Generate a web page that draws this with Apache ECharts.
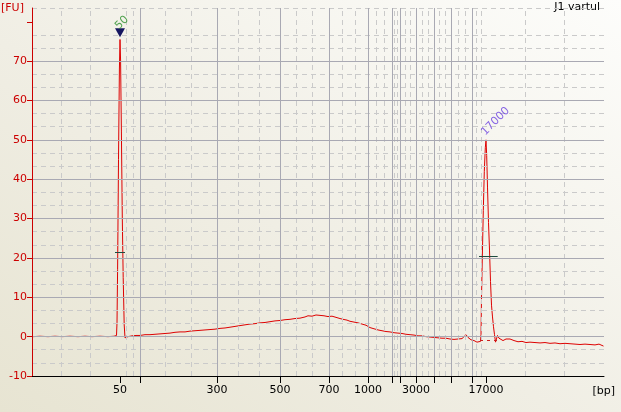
<!DOCTYPE html>
<html><head><meta charset="utf-8">
<script src="https://cdn.jsdelivr.net/npm/echarts@6/dist/echarts.min.js"></script>
<style>
html,body{margin:0;padding:0;}
#c{width:621px;height:412px;background:linear-gradient(to top right,#e7e4d2 0%,#f0eee4 45%,#fdfdfb 100%);}
</style>
</head><body><div id="c"></div>
<script>
// migration time (arbitrary units) and fluorescence
const traceTime = [33,40,48,55,62,70,78,85,92,100,108,114,116.5,117,117.6,118.5,119.4,120,120.6,121.4,122.3,123.2,124.2,125,126,128,132,136,140,145,150,155,160,165,170,175,180,185,190,195,200,205,210,215,220,225,230,235,240,245,250,255,260,265,270,275,280,285,290,295,300,305,308,312,316,320,324,328,332,336,340,343,347,350,354,358,362,366,370,374,378,382,386,390,394,398,402,406,410,414,418,422,426,430,434,438,442,446,450,454,458,462,464,466,468,471,474,477,479,480.5,481,481.5,482.3,483.3,484.3,485.3,486,486.7,487.5,488.5,489.5,490.5,491.5,492.5,493.5,494.5,495.5,496.5,497.5,499,501,503,506,510,514,518,522,526,530,535,540,545,550,555,560,565,570,575,580,585,590,595,599,601,603.5];
const traceFU = [0.0,0.1,0.0,0.1,0.0,0.1,0.0,0.1,0.0,0.1,0.0,0.1,0.3,3.5,17,45,68,75.5,70,52,30,15,3,-0.3,0.1,0.0,0.2,0.3,0.3,0.5,0.5,0.6,0.7,0.8,0.9,1.1,1.2,1.2,1.4,1.5,1.6,1.7,1.8,1.9,2.1,2.2,2.4,2.6,2.8,3.0,3.2,3.3,3.5,3.6,3.8,4.0,4.1,4.3,4.4,4.6,4.7,5.0,5.3,5.2,5.5,5.4,5.3,5.1,5.2,4.9,4.6,4.4,4.2,3.9,3.7,3.5,3.2,2.9,2.3,2.0,1.7,1.5,1.3,1.2,1.0,0.9,0.8,0.6,0.5,0.4,0.2,0.2,0.0,-0.1,-0.2,-0.3,-0.4,-0.4,-0.6,-0.7,-0.6,-0.5,-0.1,0.5,-0.2,-0.8,-1.0,-1.4,-0.9,-1.2,0.5,10,20,32,42,48,50,46,38,29,22,14,8,5,2.5,0.5,-1.4,-1.2,0.3,-0.4,-0.2,-1.0,-0.6,-0.6,-1.0,-1.3,-1.2,-1.5,-1.4,-1.5,-1.6,-1.5,-1.7,-1.6,-1.8,-1.7,-1.8,-1.9,-2.0,-1.9,-2.0,-2.1,-1.9,-2.4,-2.4];

const ladderTime = [120,140,217,280,329,368,392,400,416,434,451,472,486];
const ladderSize = ['50','100','300','500','700','1000','1500','2000','3000','4000','5000','7000','17000'];
const labelledSizes = ['50','300','500','700','1000','3000','17000'];
const timeMin = 32, timeMax = 604;

const yMin = -10, yMax = 83.5, yStep = 10;
const yTicks = [-10,0,10,20,30,40,50,60,70,80];
const yLabels = [-10,0,10,20,30,40,50,60,70];

const markerName = ['50','17000'];
const markerTime = [120,486];
const markerFU = [77.2,50];
const triangleTime = [120];
const triangleFU = [77.2];
const widthBarFU = [21.5,20.4];
const widthBarStart = [115,479];
const widthBarEnd = [125,497.7];
const baseDashTime = [[480,498]];
const baseDashFU = [-0.8];

// derived dashed grid lines at thirds between major lines
const bounds = [timeMin].concat(ladderTime, [timeMax]);
const dashedV = [];
for (let i = 0; i < bounds.length - 1; i++) {
  const a = bounds[i], b = bounds[i+1];
  dashedV.push(Math.floor(a + (b - a) / 3) + 0.5, Math.floor(a + 2 * (b - a) / 3) + 0.5);
}
const dashedH = [];
for (let v = yMin; v < yMax; v += yStep) {
  [v + yStep/3, v + 2*yStep/3].forEach(d => { if (d < yMax) dashedH.push(d); });
}

const labelTimes = ladderTime.filter((t, i) => labelledSizes.indexOf(ladderSize[i]) >= 0);
const sizeAt = t => ladderSize[ladderTime.indexOf(t)];

const FONT = 'DejaVu Sans';
const GRID_SOLID = '#a9a9b3', GRID_DASH = '#cacaca';
const chart = echarts.init(document.getElementById('c'), null, {renderer: 'canvas'});
const lineMark = (arr, axis, color, type) => arr.map(v => ({[axis]: v, lineStyle: {color: color, type: type, width: 1}}));

chart.setOption({
  backgroundColor: 'transparent',
  animation: false,
  grid: {left: 32, right: 17, top: 8, bottom: 36},
  xAxis: {
    type: 'value', min: timeMin, max: timeMax, z: 10,
    axisLine: {onZero: false, lineStyle: {color: '#000', width: 1}},
    axisTick: {show: true, customValues: ladderTime, length: 7, lineStyle: {color: '#000'}},
    axisLabel: {customValues: labelTimes, formatter: v => sizeAt(v), color: '#000', fontFamily: FONT, fontSize: 11, margin: 9},
    splitLine: {show: true, showMinLine: false, showMaxLine: false, lineStyle: {color: GRID_SOLID, width: 1}}
  },
  yAxis: {
    type: 'value', min: yMin, max: yMax, interval: yStep, z: 10,
    axisLine: {show: true, lineStyle: {color: '#cc0000', width: 1}},
    axisTick: {show: true, customValues: yTicks, length: 5, lineStyle: {color: '#cc0000'}},
    axisLabel: {customValues: yLabels, color: '#cc0000', fontFamily: FONT, fontSize: 11, margin: 5},
    splitLine: {show: true, showMinLine: false, showMaxLine: false, lineStyle: {color: GRID_SOLID, width: 1}}
  },
  graphic: [
    {type: 'text', left: 1, top: 3, style: {text: '[FU]', fill: '#cc0000', font: '11px ' + FONT}},
    {type: 'text', right: 21, top: 2, style: {text: 'J1 vartul', fill: '#000', font: '11px ' + FONT}},
    {type: 'text', right: 6, top: 386, style: {text: '[bp]', fill: '#000', font: '11px ' + FONT}}
  ],
  series: [
    {
      type: 'line', data: [], z: 0, silent: true,
      markLine: {
        silent: true, symbol: 'none', label: {show: false}, animation: false,
        emphasis: {disabled: true},
        data: [].concat(
          lineMark(dashedV, 'xAxis', GRID_DASH, [5, 4]),
          lineMark(dashedH, 'yAxis', GRID_DASH, [5, 4])
        )
      }
    },
    {
      type: 'line', z: 3, silent: true,
      data: traceTime.map((t, i) => [t, traceFU[i]]),
      showSymbol: false, symbol: 'none',
      lineStyle: {color: '#dd0000', width: 1},
      markLine: {
        silent: true, symbol: 'none', label: {show: false},
        data: widthBarFU.map((y, i) => [
          {coord: [widthBarStart[i], y], lineStyle: {color: '#1f4a3e', width: 1, type: 'solid'}},
          {coord: [widthBarEnd[i], y]}
        ]).concat(baseDashFU.map((y, i) => [
          {coord: [baseDashTime[i][0], y], lineStyle: {color: '#cc2020', width: 1, type: [3, 4]}},
          {coord: [baseDashTime[i][1], y]}
        ]))
      }
    },
    {
      type: 'scatter', z: 4, silent: true,
      data: triangleTime.map((t, i) => [t, triangleFU[i]]),
      symbol: 'triangle', symbolRotate: 180, symbolSize: [10, 9],
      itemStyle: {color: '#161660', opacity: 1}
    },
    {
      type: 'scatter', z: 5, silent: true, symbolSize: 0,
      data: markerTime.map((t, i) => ({
        value: [t, markerFU[i]],
        label: {
          show: true, formatter: markerName[i], position: 'inside', rotate: 45,
          offset: i === 0 ? [8.5, -5.7] : [19.8, -6.4],
          color: i === 0 ? '#2a8f2a' : '#6a40e0',
          fontFamily: FONT, fontSize: 11
        }
      }))
    }
  ]
});
</script>
</body></html>
